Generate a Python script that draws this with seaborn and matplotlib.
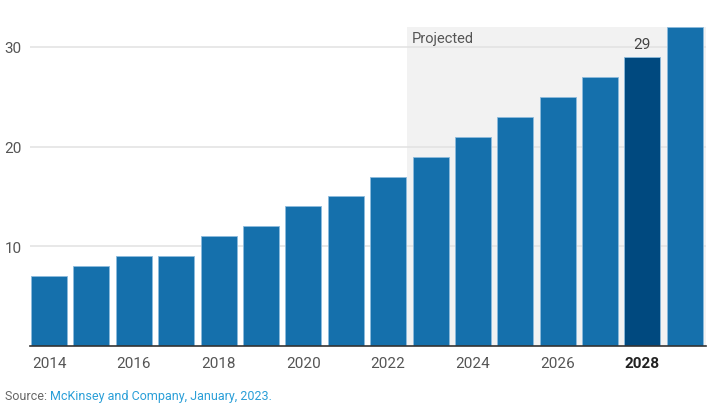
import pandas as pd
import matplotlib.pyplot as plt
import seaborn as sns

years = [2014, 2015, 2016, 2017, 2018, 2019, 2020, 2021,
         2022, 2023, 2024, 2025, 2026, 2027, 2028, 2029]
values = [7, 8, 9, 9, 11, 12, 14, 15, 17, 19, 21, 23, 25, 27, 29, 32]
highlight_year = 2028
projected_from = 2023
yticks = [10, 20, 30]

df = pd.DataFrame({"year": [str(y) for y in years], "value": values})
df["kind"] = ["hi" if y == highlight_year else "base" for y in years]

sns.set_style("white")
plt.rcParams["font.family"] = ["Roboto", "DejaVu Sans"]

fig = plt.figure(figsize=(7.16, 4.06), dpi=100)
ax = fig.add_axes([30 / 716, 1 - 347 / 406, 676 / 716, 319 / 406])

# shaded projected area (starts between 2022 and 2023 bars)
start = years.index(projected_from) - 0.55
ax.axvspan(start, len(years) - 0.5, color="#f2f2f2", zorder=0, lw=0)

sns.barplot(data=df, x="year", y="value", hue="kind",
            palette={"base": "#1570ac", "hi": "#00497f"}, saturation=1,
            dodge=False, legend=False, width=0.85,
            edgecolor="#8dbbdd", linewidth=0.6, ax=ax, zorder=2)

ax.set_ylim(0, 32)
ax.set_xlim(-0.45, len(years) - 0.5)
ax.set_yticks(yticks)
ax.yaxis.grid(True, color="#e2e2e2", lw=1.1, zorder=1)
ax.set_axisbelow(True)
for s in ["top", "right", "left"]:
    ax.spines[s].set_visible(False)
ax.spines["bottom"].set_color("#333333")
ax.spines["bottom"].set_linewidth(1.2)
ax.spines["bottom"].set_zorder(3)

ax.set_xticks(range(0, len(years), 2))
ax.set_xticklabels([str(y) for y in years[::2]])
ax.tick_params(axis="both", length=0, labelsize=11, labelcolor="#555555")
ax.tick_params(axis="x", pad=7)
ax.tick_params(axis="y", pad=6)
for lab in ax.get_xticklabels():
    if lab.get_text() == str(highlight_year):
        lab.set_fontweight("bold")
        lab.set_color("#222222")
ax.set_xlabel("")
ax.set_ylabel("")

ax.text(start + 0.1, 0.965, "Projected", transform=ax.get_xaxis_transform(),
        fontsize=10.5, color="#555555", va="center", ha="left")
hi = years.index(highlight_year)
ax.text(hi, values[hi] + 0.6, str(values[hi]), fontsize=11, color="#444444",
        ha="center", va="bottom")

t1 = fig.text(5 / 716, 1 - 397 / 406, "Source: ", fontsize=9, color="#666666",
              va="center", ha="left")
fig.canvas.draw()
bb = t1.get_window_extent()
fig.text(bb.x1 / 716, 1 - 397 / 406, "McKinsey and Company, January, 2023.",
         fontsize=9, color="#2a9fd8", va="center", ha="left")

fig.savefig("out.png", dpi=100)
